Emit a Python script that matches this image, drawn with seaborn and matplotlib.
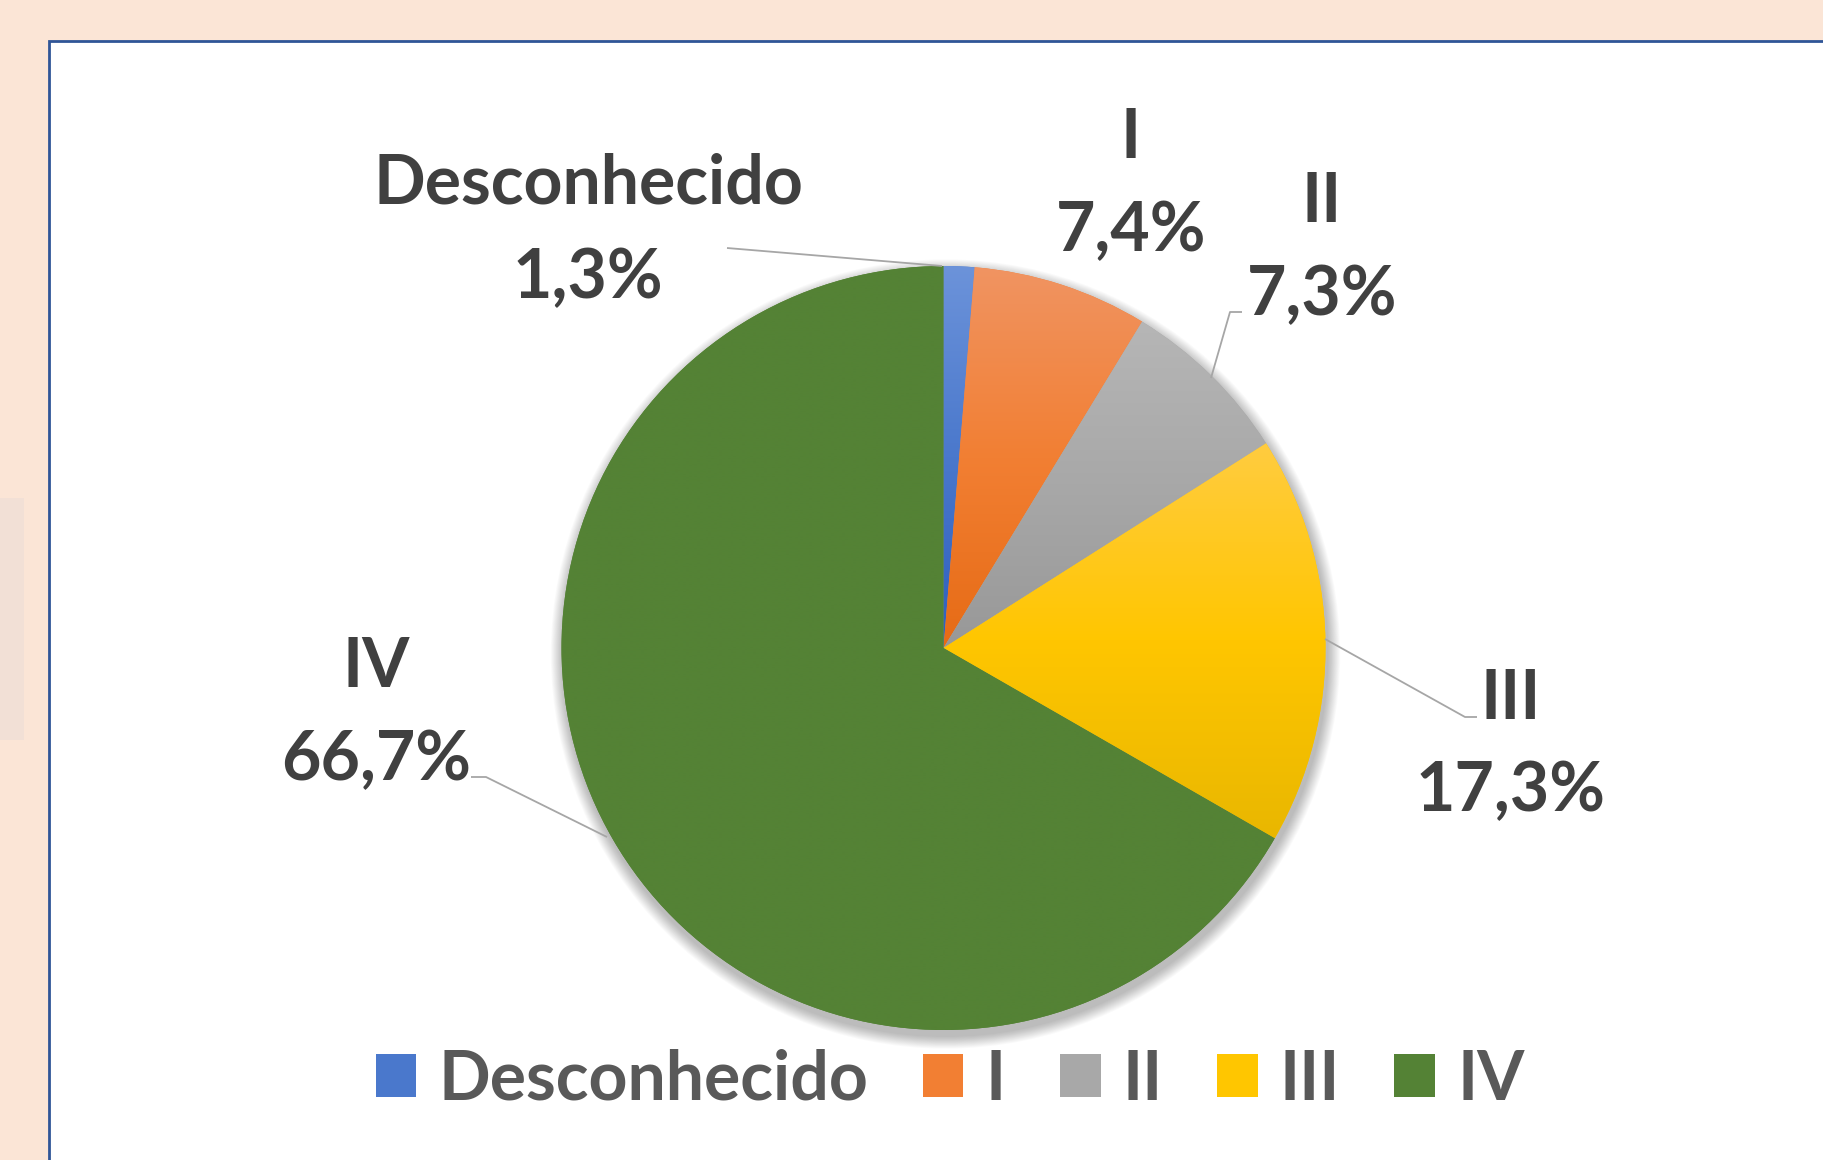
import numpy as np
import matplotlib.pyplot as plt
import seaborn as sns
from matplotlib.colors import LinearSegmentedColormap
from matplotlib.patches import Rectangle, Circle, Patch

# data
categories = ['Desconhecido', 'I', 'II', 'III', 'IV']
percentages = [1.3, 7.4, 7.3, 17.3, 66.7]

# office style gradient fills (top, middle, bottom)
fills = [
    ['#6C93DA', '#4A78CC', '#2E5FBE'],
    ['#F09462', '#F27F33', '#E66B15'],
    ['#B6B6B6', '#A8A8A8', '#989898'],
    ['#FFCC40', '#FFC600', '#E9B700'],
    ['#548235', '#548235', '#548235'],
]
solid = [f[1] for f in fills]

sns.set_style('white')
plt.rcParams['font.family'] = ['Lato', 'DejaVu Sans']

W, H = 1823, 1160
fig = plt.figure(figsize=(W / 100, H / 100), dpi=100, facecolor='#FBE5D6')
ax = fig.add_axes([0, 0, 1, 1])

# chart area frame
ax.add_patch(Rectangle((49, -20), 1900, H - 41 + 20, facecolor='white',
                       edgecolor='#2F5597', lw=2, zorder=0))
# faint smudge on the left margin
ax.add_patch(Rectangle((0, H - 740), 24, 242, facecolor='#F2E0D6', lw=0, zorder=0))

cx, cy, r = 943.5, H - 648, 382

# soft shadow under the pie
for k in range(14):
    ax.add_patch(Circle((cx + 2, cy - 6), r + 1 + k * 0.9, facecolor='black',
                        alpha=0.02, lw=0, zorder=0.5))

wedges, _ = ax.pie(percentages, colors=solid, startangle=90, counterclock=False,
                   center=(cx, cy), radius=r, wedgeprops=dict(linewidth=0))

# vertical gradient on each slice
grad = np.linspace(0, 1, 256).reshape(-1, 1)
for w, cols in zip(wedges, fills):
    w.set_zorder(1)
    ext = w.get_path().get_extents()
    cmap = LinearSegmentedColormap.from_list('g', cols)
    im = ax.imshow(grad, cmap=cmap, aspect='auto', origin='upper',
                   extent=[ext.x0, ext.x1, ext.y0, ext.y1], zorder=1.5,
                   interpolation='bilinear')
    im.set_clip_path(w)

# data labels (name + percent) with leader lines
txt_color = '#404040'
label_pos = [(588, 204, 298), (1131, 158, 251), (1322, 222, 315),
             (1511, 719, 811), (376, 687, 780)]
for name, val, (x, y1, y2) in zip(categories, percentages, label_pos):
    pct = f'{val:.1f}'.replace('.', ',') + '%'
    ax.text(x, H - y1, name, ha='center', va='baseline', fontsize=49,
            fontweight='bold', color=txt_color, zorder=5)
    ax.text(x, H - y2, pct, ha='center', va='baseline', fontsize=49,
            fontweight='bold', color=txt_color, zorder=5)

leaders = [
    [(727, 248), (942, 266)],
    [(1242, 312), (1230, 312), (1211, 378)],
    [(1325, 639), (1465, 717), (1477, 717)],
    [(471, 777), (486, 777), (607, 837)],
]
for pts in leaders:
    xs = [p[0] for p in pts]
    ys = [H - p[1] for p in pts]
    ax.plot(xs, ys, color='#A6A6A6', lw=1.3, zorder=4, solid_capstyle='butt')

handles = [Patch(facecolor=c, edgecolor='none') for c in solid]
ax.legend(handles, categories, ncol=5, loc='center', frameon=False,
          bbox_to_anchor=(950 / W, (H - 1080) / H),
          prop={'size': 49, 'weight': 'bold'}, labelcolor='#595959',
          handlelength=0.6, handleheight=0.6, handletextpad=0.32,
          columnspacing=0.8, borderpad=0, borderaxespad=0)

ax.set_xlim(0, W)
ax.set_ylim(0, H)
ax.set_aspect('auto')
ax.axis('off')

fig.savefig('out.png', dpi=100, facecolor=fig.get_facecolor())
